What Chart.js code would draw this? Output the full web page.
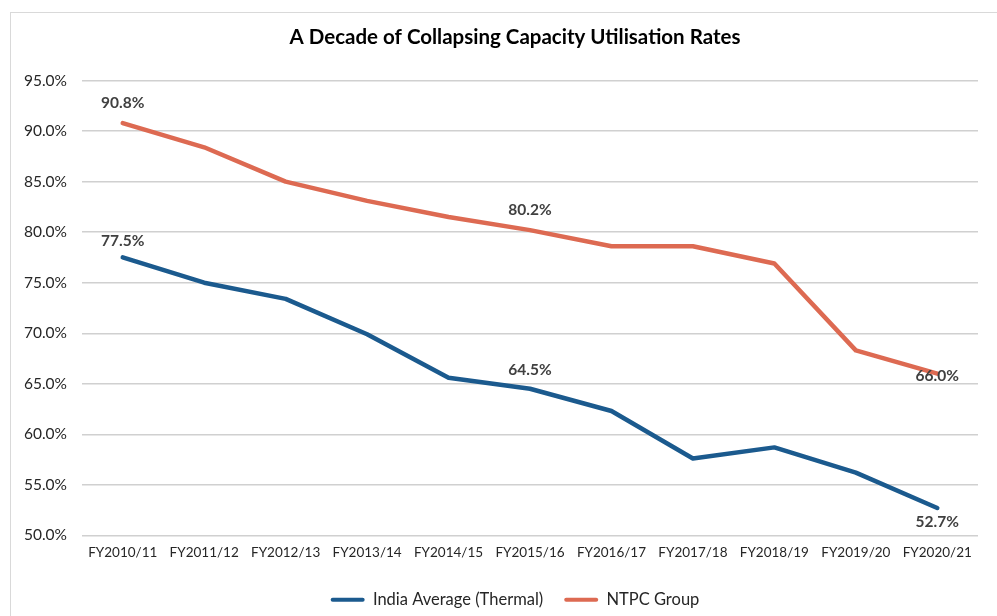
<!DOCTYPE html>
<html>
<head>
<meta charset="utf-8">
<script src="https://cdn.jsdelivr.net/npm/chart.js@4"></script>
<style>
  body { margin: 0; background: #fff; overflow: hidden; width: 997px; height: 616px; position: relative; }
  #frame { position: absolute; left: 10px; top: 12px; width: 1020px; height: 700px; border: 1.5px solid #d9d9d9; box-sizing: border-box; }
  #chart { position: absolute; left: 11px; top: 13px; }
</style>
</head>
<body>
<div id="frame"></div>
<canvas id="chart" width="1014" height="603"></canvas>
<script>
// Daten
const categories = ['FY2010/11', 'FY2011/12', 'FY2012/13', 'FY2013/14', 'FY2014/15', 'FY2015/16',
                    'FY2016/17', 'FY2017/18', 'FY2018/19', 'FY2019/20', 'FY2020/21'];
const indiaAvg = [77.5, 75.0, 73.4, 69.9, 65.6, 64.5, 62.3, 57.6, 58.7, 56.2, 52.7];
const ntpcGroup = [90.8, 88.4, 85.0, 83.1, 81.5, 80.2, 78.6, 78.6, 76.9, 68.3, 66.0];
const yTicks = [50, 55, 60, 65, 70, 75, 80, 85, 90, 95];

// welche Punkte beschriftet werden (Abstand in px, negativ = oben)
const labelSpots = [
    { dataset: 0, index: 0, dy: -16 },
    { dataset: 0, index: 5, dy: -19 },
    { dataset: 0, index: 10, dy: 14 },
    { dataset: 1, index: 0, dy: -20 },
    { dataset: 1, index: 5, dy: -20 },
    { dataset: 1, index: 10, dy: 2 }
];

const BLUE = '#1b5a8e';
const ORANGE = '#dd6a52';
const FONT = 'Lato';

// kleines Beschriftungs-Plugin (datalabels gibt es offline nicht)
const pointLabels = {
    id: 'pointLabels',
    afterDatasetsDraw(chart) {
        const ctx = chart.ctx;
        ctx.save();
        ctx.font = `bold 15.5px ${FONT}`;
        ctx.fillStyle = '#404040';
        ctx.textAlign = 'center';
        ctx.textBaseline = 'middle';
        labelSpots.forEach(s => {
            const pt = chart.getDatasetMeta(s.dataset).data[s.index];
            const v = chart.data.datasets[s.dataset].data[s.index];
            ctx.fillText(v.toFixed(1) + '%', pt.x, pt.y + s.dy);
        });
        ctx.restore();
    }
};

const ctx = document.getElementById('chart').getContext('2d');
new Chart(ctx, {
    type: 'line',
    data: {
        labels: categories,
        datasets: [
            {
                label: 'India Average (Thermal)',
                data: indiaAvg,
                yAxisID: 'y',
                borderColor: BLUE,
                backgroundColor: BLUE,
                borderWidth: 4.5,
                pointRadius: 0,
                tension: 0,
                borderCapStyle: 'round',
                borderJoinStyle: 'round'
            },
            {
                label: 'NTPC Group',
                data: ntpcGroup,
                yAxisID: 'y',
                borderColor: ORANGE,
                backgroundColor: ORANGE,
                borderWidth: 4.5,
                pointRadius: 0,
                tension: 0,
                borderCapStyle: 'round',
                borderJoinStyle: 'round'
            }
        ]
    },
    options: {
        responsive: false,
        animation: false,
        layout: { padding: { left: 11, right: 17, top: 0, bottom: -2 } },
        plugins: {
            title: {
                display: true,
                text: 'A Decade of Collapsing Capacity Utilisation Rates',
                color: '#000',
                font: { family: FONT, size: 20.5, weight: 'bold' },
                padding: { top: 12, bottom: 31 }
            },
            legend: {
                position: 'bottom',
                labels: {
                    font: { family: FONT, size: 16.5 },
                    color: '#262626',
                    boxWidth: 34,
                    boxHeight: 4,
                    padding: 21,
                    generateLabels: chart => Chart.defaults.plugins.legend.labels.generateLabels(chart)
                        .map(l => ({ ...l, lineWidth: 0, fillStyle: l.strokeStyle, borderRadius: 2 }))
                }
            },
            tooltip: { enabled: false }
        },
        scales: {
            x: {
                offset: true,
                grid: { display: false, drawTicks: false },
                border: { display: false },
                ticks: {
                    color: '#262626',
                    font: { family: FONT, size: 13.5 },
                    padding: 9.5,
                    autoSkip: false,
                    maxRotation: 0
                }
            },
            y: {
                min: yTicks[0],
                max: yTicks[yTicks.length - 1],
                afterBuildTicks: scale => { scale.ticks = yTicks.map(v => ({ value: v })); },
                afterFit: scale => { scale.width = 60; },
                grid: { color: '#d0d0d0', lineWidth: 1.4, drawTicks: false },
                border: { display: false },
                ticks: {
                    color: '#262626',
                    font: { family: FONT, size: 15.5 },
                    padding: 15,
                    callback: v => v.toFixed(1) + '%'
                }
            },
            // leere Achse rechts, damit Titel und Legende wie im Original sitzen
            yPad: {
                position: 'right',
                grid: { display: false, drawTicks: false },
                border: { display: false },
                ticks: { display: false },
                afterFit: scale => { scale.width = 30; }
            }
        }
    },
    plugins: [pointLabels]
});
</script>
</body>
</html>
